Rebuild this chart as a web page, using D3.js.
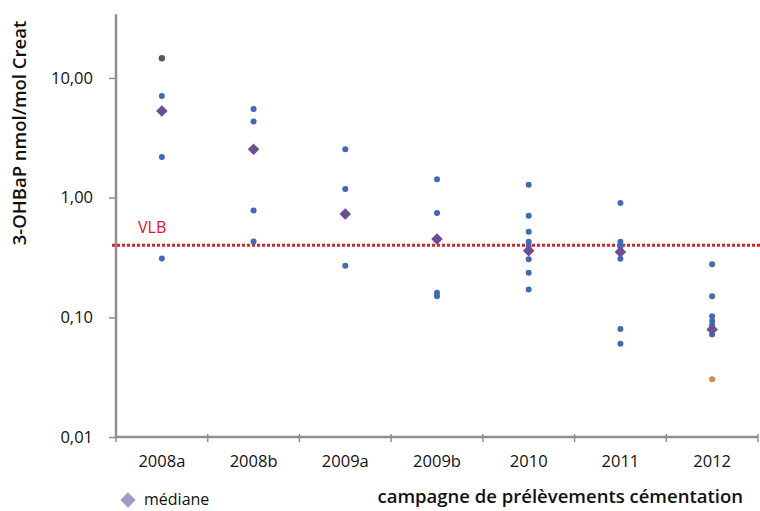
<!DOCTYPE html>
<html>
<head>
<meta charset="utf-8">
<script src="https://cdn.jsdelivr.net/npm/d3@7"></script>
<style>
  body { margin: 0; background: #fff; }
  text { font-family: "Open Sans", "Noto Sans", sans-serif; fill: #111; }
</style>
</head>
<body>
<svg width="760" height="511"></svg>
<script>
// campaigns (x categories)
var categories = ["2008a", "2008b", "2009a", "2009b", "2010", "2011", "2012"];

// individual results, nmol/mol creatinine (one list per campaign)
var measures = [
  [7.06, 2.18, 0.31],
  [5.49, 4.33, 0.78, 0.43],
  [2.53, 1.18, 0.27],
  [1.42, 0.745, 0.16, 0.15],
  [1.28, 0.706, 0.518, 0.427, 0.395, 0.305, 0.236, 0.171],
  [0.903, 0.427, 0.388, 0.309, 0.080, 0.060],
  [0.277, 0.150, 0.102, 0.093, 0.086, 0.072]
];

// points drawn in other colours
var greyPoints = [{ cat: "2008a", v: 14.6 }];
var orangePoints = [{ cat: "2012", v: 0.0303 }];

// medians per campaign
var medians = [5.28, 2.53, 0.73, 0.45, 0.36, 0.352, 0.079];

var vlb = 0.4;
var yTicks = [0.01, 0.1, 1, 10];
var yMax = 34;

var svg = d3.select("svg");
var decade = 119.7;
var bottom = 437;

var x = d3.scaleBand().domain(categories).range([116, 758]);
var y = d3.scaleLog().domain([0.01, yMax])
  .range([bottom, bottom - decade * Math.log10(yMax / 0.01)]);

var axisColor = "#8f8f8f";

// y axis
var gy = svg.append("g")
  .attr("transform", "translate(116,0)")
  .call(d3.axisLeft(y)
    .tickValues(yTicks)
    .tickSize(7)
    .tickPadding(16)
    .tickFormat(function (d) { return d.toFixed(2).replace(".", ","); }));
gy.select(".domain").remove();
gy.selectAll(".tick line").attr("stroke", axisColor).attr("stroke-width", 1.5);
gy.selectAll(".tick text").attr("font-size", "16.5px").attr("fill", "#111");
svg.append("line")
  .attr("x1", 116).attr("x2", 116)
  .attr("y1", y(yMax)).attr("y2", bottom + 1)
  .attr("stroke", axisColor).attr("stroke-width", 2.5);

// x axis
var gx = svg.append("g")
  .attr("transform", "translate(0," + bottom + ")")
  .call(d3.axisBottom(x).tickSize(0).tickPadding(18));
gx.select(".domain").remove();
gx.selectAll(".tick text").attr("font-size", "16.5px").attr("fill", "#111");
svg.append("line")
  .attr("x1", 116).attr("x2", 758)
  .attr("y1", bottom).attr("y2", bottom)
  .attr("stroke", axisColor).attr("stroke-width", 2.5);
var edges = categories.map(function (c) { return x(c); }).concat([x.range()[1]]);
svg.selectAll(".xtick")
  .data(edges)
  .enter()
  .append("line")
  .attr("class", "xtick")
  .attr("x1", function (d) { return d; })
  .attr("x2", function (d) { return d; })
  .attr("y1", bottom - 3)
  .attr("y2", bottom + 5)
  .attr("stroke", axisColor)
  .attr("stroke-width", 1.5);

// VLB line
svg.append("line")
  .attr("x1", 112).attr("x2", 760)
  .attr("y1", y(vlb)).attr("y2", y(vlb))
  .attr("stroke", "#d8232a")
  .attr("stroke-width", 3)
  .attr("stroke-dasharray", "3,2");
svg.append("text")
  .attr("x", 138).attr("y", y(vlb) - 12)
  .attr("font-size", "16px")
  .style("fill", "#e3102b")
  .text("VLB");

// points
var pts = [];
measures.forEach(function (list, i) {
  list.forEach(function (v) { pts.push({ cat: categories[i], v: v }); });
});
var cx = function (d) { return x(d.cat) + x.bandwidth() / 2; };

svg.selectAll(".pt")
  .data(pts)
  .enter()
  .append("circle")
  .attr("class", "pt")
  .attr("cx", cx)
  .attr("cy", function (d) { return y(d.v); })
  .attr("r", 3)
  .attr("fill", "#3f6bb3");

svg.selectAll(".grey")
  .data(greyPoints)
  .enter()
  .append("circle")
  .attr("cx", cx)
  .attr("cy", function (d) { return y(d.v); })
  .attr("r", 3.2)
  .attr("fill", "#55566a");

svg.selectAll(".orange")
  .data(orangePoints)
  .enter()
  .append("circle")
  .attr("cx", cx)
  .attr("cy", function (d) { return y(d.v); })
  .attr("r", 3)
  .attr("fill", "#d98a45");

// medians
var diamond = d3.symbol().type(d3.symbolDiamond2).size(85);
svg.selectAll(".med")
  .data(medians)
  .enter()
  .append("path")
  .attr("class", "med")
  .attr("d", diamond)
  .attr("transform", function (d, i) {
    return "translate(" + (x(categories[i]) + x.bandwidth() / 2) + "," + y(d) + ")";
  })
  .attr("fill", "#6d4d95");

// legend
svg.append("path")
  .attr("d", d3.symbol().type(d3.symbolDiamond2).size(150))
  .attr("transform", "translate(128,500)")
  .attr("fill", "#a898c8");
svg.append("text")
  .attr("x", 144).attr("y", 505)
  .attr("font-size", "16px")
  .text("médiane");

// axis titles
svg.append("text")
  .attr("x", 743).attr("y", 503)
  .attr("text-anchor", "end")
  .attr("font-size", "18.5px")
  .attr("font-weight", 600)
  .text("campagne de prélèvements cémentation");

svg.append("text")
  .attr("transform", "translate(26,133) rotate(-90)")
  .attr("text-anchor", "middle")
  .attr("font-size", "18.5px")
  .attr("font-weight", 600)
  .text("3-OHBaP nmol/mol Creat");
</script>
</body>
</html>
